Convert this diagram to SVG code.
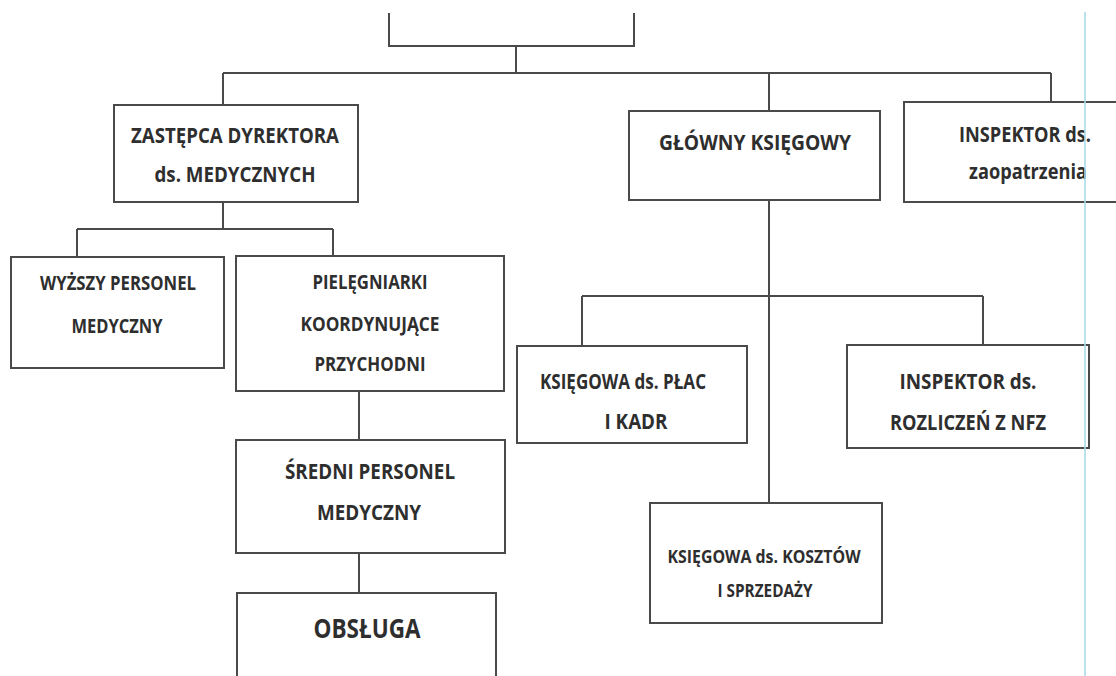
<svg xmlns="http://www.w3.org/2000/svg" width="1116" height="676" viewBox="0 0 1116 676">
<style>
.box{fill:#fff;stroke:#4a4a4a;stroke-width:2}
.ln{fill:none;stroke:#4a4a4a;stroke-width:2}
text{font-family:"Open Sans","Liberation Sans",sans-serif;font-weight:700;fill:#2e2e2e;text-anchor:middle;dominant-baseline:central}
.f20{font-size:22px}
.f17{font-size:19px}
.f15{font-size:17px}
.f24{font-size:27px}
</style>
<rect width="1116" height="676" fill="#fff"/>
<g id="connectors">
<path class="ln" d="M516,46 V73 M223,73 H1051 M223,73 V105 M769,73 V111 M1051,73 V102"/>
<path class="ln" d="M223,202 V229 M77,229 H333 M77,229 V257 M333,229 V256"/>
<path class="ln" d="M359,391 V440 M359,553 V593"/>
<path class="ln" d="M769,200 V503 M582,296 H983 M582,296 V346 M983,296 V345"/>
</g>
<g id="top"><path class="ln" d="M389,13 V46 H634 V13"/></g>
<g id="zastepca"><rect class="box" x="114" y="105" width="244" height="97"/>
<text class="f20" x="235" y="134" textLength="208" lengthAdjust="spacingAndGlyphs">ZASTĘPCA DYREKTORA</text>
<text class="f20" x="235" y="173" textLength="161" lengthAdjust="spacingAndGlyphs">ds. MEDYCZNYCH</text></g>
<g id="glowny"><rect class="box" x="629" y="111" width="251" height="89"/>
<text class="f20" x="755" y="141" textLength="192" lengthAdjust="spacingAndGlyphs">GŁÓWNY KSIĘGOWY</text></g>
<g id="inspektor-zaop"><path class="ln" d="M1117,102 H904 V202 H1117"/>
<text class="f20" x="1025" y="133" textLength="132" lengthAdjust="spacingAndGlyphs">INSPEKTOR ds.</text>
<text class="f20" x="1028" y="170" textLength="118" lengthAdjust="spacingAndGlyphs">zaopatrzenia</text></g>
<g id="wyzszy"><rect class="box" x="11" y="257" width="213" height="111"/>
<text class="f17" x="118" y="283" textLength="156" lengthAdjust="spacingAndGlyphs">WYŻSZY PERSONEL</text>
<text class="f17" x="117" y="326" textLength="91" lengthAdjust="spacingAndGlyphs">MEDYCZNY</text></g>
<g id="pielegniarki"><rect class="box" x="236" y="256" width="268" height="135"/>
<text class="f17" x="370" y="282" textLength="115" lengthAdjust="spacingAndGlyphs">PIELĘGNIARKI</text>
<text class="f17" x="370" y="324" textLength="139" lengthAdjust="spacingAndGlyphs">KOORDYNUJĄCE</text>
<text class="f17" x="370" y="364" textLength="111" lengthAdjust="spacingAndGlyphs">PRZYCHODNI</text></g>
<g id="sredni"><rect class="box" x="236" y="440" width="269" height="113"/>
<text class="f20" x="370" y="470" textLength="170" lengthAdjust="spacingAndGlyphs">ŚREDNI PERSONEL</text>
<text class="f20" x="369" y="511" textLength="104" lengthAdjust="spacingAndGlyphs">MEDYCZNY</text></g>
<g id="obsluga"><path class="ln" d="M237,680 V593 H496 V680"/>
<text class="f24" x="367" y="627" textLength="107" lengthAdjust="spacingAndGlyphs">OBSŁUGA</text></g>
<g id="ksiegowa-plac"><rect class="box" x="517" y="346" width="230" height="97"/>
<text class="f20" x="623" y="380" textLength="166" lengthAdjust="spacingAndGlyphs">KSIĘGOWA ds. PŁAC</text>
<text class="f20" x="636" y="420" textLength="63" lengthAdjust="spacingAndGlyphs">I KADR</text></g>
<g id="inspektor-nfz"><rect class="box" x="847" y="345" width="242" height="103"/>
<text class="f20" x="968" y="380" textLength="137" lengthAdjust="spacingAndGlyphs">INSPEKTOR ds.</text>
<text class="f20" x="968" y="421" textLength="156" lengthAdjust="spacingAndGlyphs">ROZLICZEŃ Z NFZ</text></g>
<g id="ksiegowa-kosztow"><rect class="box" x="650" y="503" width="232" height="120"/>
<text class="f15" x="764" y="556" textLength="193" lengthAdjust="spacingAndGlyphs">KSIĘGOWA ds. KOSZTÓW</text>
<text class="f15" x="765" y="590" textLength="95" lengthAdjust="spacingAndGlyphs">I SPRZEDAŻY</text></g>
<line x1="1085" y1="12" x2="1085" y2="676" stroke="#a8dbe8" stroke-width="2" opacity="0.8"/>
</svg>
